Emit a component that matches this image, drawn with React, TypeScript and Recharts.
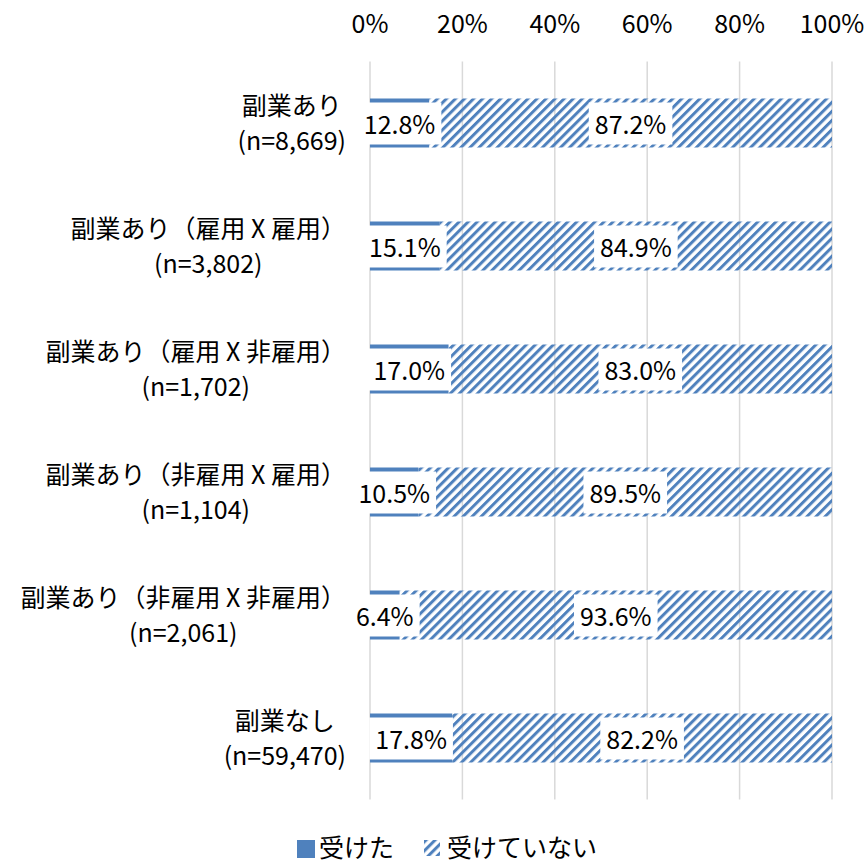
import React from 'react';
import { BarChart, Bar, XAxis, YAxis, CartesianGrid, LabelList, Legend } from 'recharts';

const categories = [
  '副業あり',
  '副業あり（雇用 X 雇用）',
  '副業あり（雇用 X 非雇用）',
  '副業あり（非雇用 X 雇用）',
  '副業あり（非雇用 X 非雇用）',
  '副業なし',
];
const nLabels = ['(n=8,669)', '(n=3,802)', '(n=1,702)', '(n=1,104)', '(n=2,061)', '(n=59,470)'];
const received = [12.8, 15.1, 17.0, 10.5, 6.4, 17.8];
const notReceived = [87.2, 84.9, 83.0, 89.5, 93.6, 82.2];
const xTicks = [0, 20, 40, 60, 80, 100];
const seriesNames = ['受けた', '受けていない'];

const data = categories.map((name, i) => ({
  name,
  n: nLabels[i],
  received: received[i],
  notReceived: notReceived[i],
}));

const FONT = "'Noto Sans CJK JP', 'Noto Sans', sans-serif";
const FS = 25;
const BLUE = '#4F81BD';

let ctx: CanvasRenderingContext2D | null = null;
function textWidth(s: string, size: number) {
  if (!ctx) ctx = document.createElement('canvas').getContext('2d');
  if (!ctx) return s.length * size * 0.6;
  ctx.font = `${size}px "Noto Sans CJK JP"`;
  return ctx.measureText(s).width;
}

const YTick = (props: any) => {
  const { x, y, payload, index } = props;
  const l1 = String(payload.value);
  const l2 = nLabels[index] ?? '';
  const w = Math.max(textWidth(l1, FS), textWidth(l2, FS));
  const right = x - 16;
  const cx = right - w / 2;
  return (
    <g>
      <text x={cx} y={y - 19} textAnchor="middle" dominantBaseline="central" fontFamily={FONT} fontSize={FS} fill="#000">
        {l1}
      </text>
      <text x={cx} y={y + 16} textAnchor="middle" dominantBaseline="central" fontFamily={FONT} fontSize={FS} fill="#000">
        {l2}
      </text>
    </g>
  );
};

const XTick = (props: any) => {
  const { x, y, payload } = props;
  return (
    <text x={x} y={y} dy={-32} textAnchor="middle" dominantBaseline="central" fontFamily={FONT} fontSize={FS} fill="#000">
      {`${payload.value}%`}
    </text>
  );
};

const DataLabel = (props: any) => {
  const { x, y, width, height, value } = props;
  const cx = Number(x) + Number(width) / 2;
  const cy = Number(y) + Number(height) / 2;
  const label = `${Number(value).toFixed(1)}%`;
  const tw = textWidth(label, FS);
  const bw = tw + 12;
  const bh = Number(height) - 7;
  return (
    <g>
      <rect x={cx - bw / 2} y={cy - bh / 2 + 0.5} width={bw} height={bh} fill="#fff" />
      <text x={cx} y={cy} textAnchor="middle" dominantBaseline="central" fontFamily={FONT} fontSize={FS} fill="#000">
        {label}
      </text>
    </g>
  );
};

const LegendContent = () => (
  <div style={{ display: 'flex', alignItems: 'center', marginLeft: 297, height: 34, lineHeight: '30px', fontFamily: FONT, fontSize: FS, color: '#000' }}>
    <div style={{ width: 18, height: 18, background: BLUE, marginRight: 4, marginTop: 6 }} />
    <span>{seriesNames[0]}</span>
    <svg width={16} height={16} style={{ marginLeft: 30, marginRight: 7, marginTop: 4 }}>
      <defs>
        <pattern id="hatchLegend" patternUnits="userSpaceOnUse" width={6.4} height={6.4} patternTransform="rotate(45)">
          <rect x={0} y={0} width={3} height={6.4} fill={BLUE} />
        </pattern>
      </defs>
      <rect x={0} y={0} width={16} height={16} fill="url(#hatchLegend)" />
    </svg>
    <span>{seriesNames[1]}</span>
  </div>
);

export default function App() {
  return (
    <div style={{ position: 'absolute', left: 0, top: 0, width: 867, height: 864, background: '#fff' }}>
      <BarChart
        width={867}
        height={864}
        data={data}
        layout="vertical"
        margin={{ top: 0, right: 35, bottom: 64.5, left: 0 }}
      >
        <defs>
          <pattern id="hatch" patternUnits="userSpaceOnUse" width={6.4} height={6.4} patternTransform="rotate(45)">
            <rect x={0} y={0} width={3} height={6.4} fill={BLUE} />
          </pattern>
        </defs>
        <CartesianGrid horizontal={false} stroke="#D9D9D9" strokeWidth={1.5} />
        <XAxis
          type="number"
          orientation="top"
          domain={[0, 100]}
          ticks={xTicks}
          axisLine={false}
          tickLine={false}
          height={61.5}
          tick={<XTick />}
          interval={0}
        />
        <YAxis
          type="category"
          dataKey="name"
          width={370}
          axisLine={false}
          tickLine={false}
          tick={<YTick />}
          interval={0}
        />
        <Legend
          layout="horizontal"
          verticalAlign="middle"
          align="center"
          wrapperStyle={{ top: 829, left: 0, width: 867 }}
          content={<LegendContent />}
        />
        <Bar dataKey="received" name={seriesNames[0]} stackId="a" fill={BLUE} barSize={49} isAnimationActive={false}>
          <LabelList dataKey="received" content={<DataLabel />} />
        </Bar>
        <Bar dataKey="notReceived" name={seriesNames[1]} stackId="a" fill="url(#hatch)" barSize={49} isAnimationActive={false}>
          <LabelList dataKey="notReceived" content={<DataLabel />} />
        </Bar>
      </BarChart>
    </div>
  );
}
